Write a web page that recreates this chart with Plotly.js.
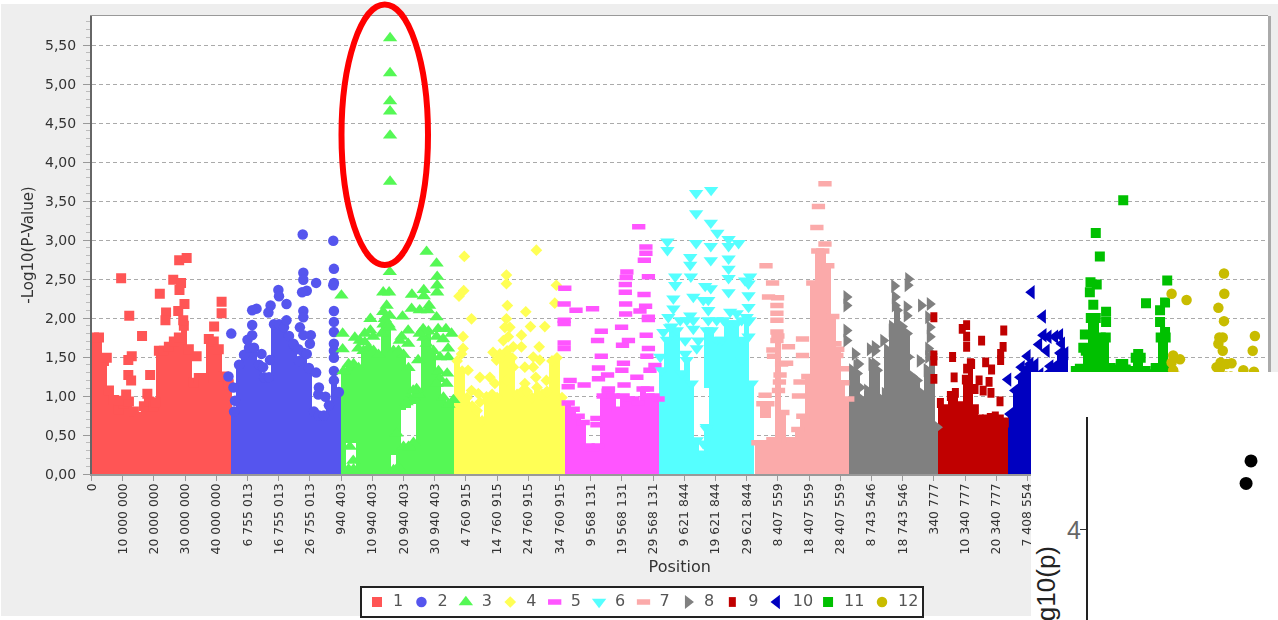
<!DOCTYPE html>
<html><head><meta charset="utf-8">
<script src="https://cdn.plot.ly/plotly-3.0.1.min.js"></script>
<style>
html,body{margin:0;padding:0;width:1278px;height:620px;overflow:hidden;background:#fff}
#panel{position:absolute;left:1px;top:4px;width:1277px;height:612px;background:#eeeeee}
#chart{position:absolute;left:0;top:0;width:1278px;height:620px;filter:blur(0.45px)}
#inset{position:absolute;left:1031px;top:372px;width:247px;height:407px;background:#fff}
</style></head><body>
<div id="panel"></div><div id="chart"></div><div id="inset"></div>
<script>
// Axis ticks: cumulative position in Mb, and the within-chromosome label
const tickMb=[0,10,20,30,40,50,60,70,80,90,100,110,120,130,140,150,160,170,180,190,200,210,220,230,240,250,260,270,280,290,300];
const tickLabels=["0","10 000 000","20 000 000","30 000 000","40 000 000","6 755 013","16 755 013","26 755 013","940 403","10 940 403","20 940 403","30 940 403","4 760 915","14 760 915","24 760 915","34 760 915","9 568 131","19 568 131","29 568 131","9 621 844","19 621 844","29 621 844","8 407 559","18 407 559","28 407 559","8 743 546","18 743 546","340 777","10 340 777","20 340 777","7 408 554"];
const chrNames=["1","2","3","4","5","6","7","8","9","10","11","12"];
const legendSlots=[1,2,3,4,5,6,7,8,9,10,11.155,12.37];
const legendTextSlots=[1.36,2.36,3.36,4.36,5.36,6.36,7.36,8.36,9.36,10.36,11.515,12.73];
const chrColors=["#ff5555","#5555ee","#55f855","#ffff55","#ff55ff","#55ffff","#fbaaaa","#808080","#c00000","#0000c0","#00c000","#c8bc00"];
const chrSymbols=["square","circle","triangle-up","diamond","line-ew","triangle-down","line-ew","triangle-right","line-ns","triangle-left","square","circle"];
const chrSizes=[10,10.5,12.5,9,9.5,12.5,9.5,12,7,12.5,10,10.5];
const chrLineWidths=[0,0,0,0,5.5,0,5.5,0,7,0,0,0];

// Dense lower part of each chromosome: column position (Mb) and top of the solid mass
const mass1X=[0.8,2.4,4,5.6,7.2,8.8,10.4,12,13.6,15.2,16.8,18.4,20,21.6,23.2,24.8,26.4,28,29.6,31.2,32.8,34.4,36,37.6,39.2,40.8,42.4,44];
const mass1Top=[1.75,1.75,1.45,1.07,.95,.83,.9,.93,.8,.73,.87,.93,.87,1.58,1.58,1.63,1.7,1.75,1.9,1.6,1.17,1.23,1.23,1.73,1.7,1.6,1.25,1.15];
const mass2X=[45.7,47.3,48.9,50.5,52.1,53.7,55.3,56.9,58.5,60.1,61.7,63.3,64.9,66.5,68.1,69.7,71.3,72.9,74.5,76.1,77.7,79.3];
const mass2Top=[.8,1.4,1.53,1.62,1.62,1.4,1.24,1.24,1.92,1.92,1.88,1.77,1.65,1.45,1.55,1.36,.8,.75,.75,.88,1.2,1.05];
const mass3X=[80.8,82.4,84,85.6,87.2,88.8,90.4,92,93.6,95.2,96.8,98.4,100,101.6,103.2,104.8,106.4,108,109.6,111.2,112.8,114.4,116];
const mass3Top=[1.32,.06,.06,1.36,1.58,1.62,1.58,1.53,1.92,1.92,.05,1.58,.35,.35,.4,1.02,1.75,1.83,1.58,1.32,.98,.89,.95];
const mass4X=[117.2,118.8,120.4,122,123.6,125.2,126.8,128.4,130,131.6,133.2,134.8,136.4,138,139.6,141.2,142.8,144.4,146,147.6,149.2,150.8];
const mass4Top=[1.45,1.32,.98,.87,.81,.68,.94,1.02,.98,1.49,1.58,1.49,1.02,1.06,1.06,.98,1.11,1.02,1.06,1.45,1.49,.98];
const mass5X=[152.8,154.4,156,157.6,159.2,160.8,162.4,164,165.6,167.2,168.8,170.4,172,173.6,175.2,176.8,178.4,180,181.6];
const mass5Top=[.91,.83,.74,.66,.36,.32,.36,1,1.06,1,.83,1,.96,.96,.91,1.09,1,1,.96];
const mass6X=[182.8,184.4,186,187.6,189.2,190.8,192.4,194,195.6,197.2,198.8,200.4,202,203.6,205.2,206.8,208.4,210,211.6];
const mass6Top=[1.33,1.72,1.89,1.84,1.29,1.46,1.16,.43,.26,.6,1.84,1.72,1.72,1.93,1.93,1.93,1.72,2.01,1.16];
const mass7X=[213.6,215.2,216.8,218.4,220,221.6,223.2,224.8,226.4,228,229.6,231.2,232.8,234.4,236,237.6,239.2,240.8,242.4];
const mass7Top=[.4,.4,.4,.44,1.77,.79,.44,.44,.57,.74,1.25,2.45,2.86,2.86,2.67,2.02,1.6,1.17,.96];
const mass8X=[243.8,245.4,247,248.6,250.2,251.8,253.4,255,256.6,258.2,259.8,261.4,263,264.6,266.2,267.8,269.4,271];
const mass8Top=[1.33,1.29,.95,1.07,1.33,1.33,.95,1.59,1.89,2.1,1.89,1.8,1.25,1.2,1.03,1.33,1.54,.6];
const mass9X=[272.1,273.7,275.3,276.9,278.5,280.1,281.7,283.3,284.9,286.5,288.1,289.7,291.3,292.9];
const mass9Top=[.91,.83,1,1.04,.87,1.21,1.42,.83,.7,.7,.72,.74,.7,.66];
const mass10X=[294.5,296.1,297.7,299.3,300.9,302.5,304.1,305.7,307.3,308.9,310.5,312.1];
const mass10Top=[.77,1.07,1.24,1.33,1.41,1.4,1.28,1.26,1.38,1.38,1.55,1.55];
const mass11X=[315.5,317.1,318.7,320.3,321.9,323.5,325.1,326.7,328.3,329.9,331.5,333.1,334.7,336.3,337.9,339.5,341.1,342.7,344.3,345.9];
const mass11Top=[1.32,1.34,1.58,2,2,1.75,1.75,1.36,1.34,1.41,1.34,1.32,1.49,1.49,1.32,1.28,1.36,1.75,1.75,1.32];
const mass12X=[346.5,348.1,360.4,362,363.6,365.2,369,372.5];
const mass12Top=[1.25,1.25,1.25,1.25,1.25,1.25,1.25,1.25];

// Columns that have a white gap: the part above the gap
const band3X=[82.4,84,96.8,100,101.6,103.2];
const band3Low=[.4,.4,.24,.82,.85,.9];
const band3Top=[1.41,1.41,1.58,1.53,1.36,.98];
const band6X=[197.2];
const band6Low=[1.1];
const band6Top=[1.84];
const band7X=[215.2,216.8];
const band7Low=[.72,.72];
const band7Top=[.9,.9];

// Separately visible points: position (Mb) and -log10(p)
const pts1X=[9.5,12.1,16.2,21.9,23.9,23.7,26.2,28.7,28.2,28.1,30.5,29.8,27.8,29.4,41.7,41.7,39.3,4.9,12.9,11.8,11.8,12.7,18.8,33.7,11.1,17.9,8.6,20.4];
const pts1Y=[2.51,2.03,1.77,2.31,2.07,1.97,2.49,2.45,2.36,2.74,2.77,2.18,2.09,1.97,2.21,2.06,1.89,1.49,1.51,1.46,1.27,1.2,1.27,1.51,1.02,1.03,.94,.92];
const pts2X=[67.7,77.5,77.7,67.9,67.9,72,77.7,77.5,69,67.5,59.9,60.1,52.9,51.5,57.4,62.5,56.7,67.9,67.9,77.7,77.7,77.7,77.7,77.7,77.7,77.7,51.5,44.8,66.8,70.3,67.9,72,72.9,72.7,75,45.5,46,43.9,50,51.5,62.5,57.2,55,64.7,66.3,69,70,54.5];
const pts2Y=[3.07,2.99,2.63,2.58,2.49,2.45,2.45,2.42,2.35,2.33,2.36,2.28,2.12,2.1,2.16,2.18,2.07,2.09,2.01,2.09,1.95,1.82,1.67,1.58,1.49,1.32,1.91,1.8,1.88,1.78,1.78,1.3,1.11,1.02,.99,1.11,.94,1.25,1.72,1.78,1.97,1.46,1.37,1.67,1.6,1.54,1.67,1.54];
const pts3X=[95.7,95.7,95.7,95.7,95.7,95.7,107.4,110.6,95.6,110.8,110.8,110.8,93.5,95.4,102.7,106.5,106.5,80.1,94.6,93.5,95.6,102.6,105.2,108.2,107.9,89.4,99.7,110.6,87.6,89.4,84.4,101.5,99.4,106.3,113.6,115.4,111.1,86,114.3,114,111.7,104.7,104.2,101,80.5,80.5,85.5,87.6,90.3,93,95.6,94,98.8,101.5,105.2,107.4,110.6,112.7,114.3,111.7,113.8,110.6,103.1,97.8,102,98.3,83.9,82.8];
const pts3Y=[5.59,5.14,4.78,4.65,4.34,3.75,2.85,2.7,2.59,2.53,2.42,2.33,2.33,2.33,2.3,2.36,2.28,2.29,2.16,2.08,2.03,2.12,2.1,2.16,2.1,1.99,2.02,2.01,1.8,1.84,1.75,1.84,1.76,1.86,1.86,1.8,1.86,1.71,1.61,1.29,1.22,1.46,1.09,.92,1.8,1.6,1.61,1.69,1.76,1.8,1.88,1.99,1.71,1.67,1.8,1.67,1.76,1.73,1.5,1.5,1.16,1.16,1.07,.52,.34,.09,.17,.35];
const pts4X=[119.5,142.6,133,133,119.3,117.8,149,148.5,133.3,139.2,121.8,133,134.1,140.7,145.3,137.8,132,119.1,119.1,143.5,128.7,124.5,129.3,141.6,135.2,124.5,133,138.9,142.4,118.6,120.7,126.6,130.9,135.2,133.6,132.5,137.8,141.6,143.7,145.8,138.9,134.1,129.8,127.7,121.8,124];
const pts4Y=[2.79,2.87,2.55,2.44,2.35,2.28,2.42,2.19,2.16,2.08,1.99,1.99,1.88,1.89,1.89,1.78,1.71,1.76,1.61,1.63,1.56,1.24,1.16,1.37,1.37,.92,1.2,1.16,1.24,1.54,1.33,.99,1.54,1.63,1.76,1.88,1.63,1.5,1.46,1.2,1.37,1.5,1.46,1.24,1.07,1.03];
const pts5X=[175.4,177.7,177.7,177.2,171.6,171.4,171.1,171.1,171.2,171.2,178.5,177.1,177.6,175.8,178.5,178.5,151.7,151.5,151.5,151.5,151.5,151.5,155.3,160.6,169.9,163.4,162.2,177.8,172.1,170.2,178.5,163.4,178,170.5,170,162.5,165.4,162.5,179,180.6,174.8,170.7,153.4,157.9,152.8,165.7,178.2,162,162];
const pts5Y=[3.17,2.91,2.83,2.74,2.59,2.52,2.43,2.33,2.18,2.05,2.53,2.3,2.15,2.09,2.01,1.98,2.38,2.18,1.97,1.93,1.68,1.61,2.1,2.12,1.88,1.83,1.71,1.78,1.71,1.65,1.61,1.51,1.51,1.42,1.33,1.36,1.27,1.22,1.33,1.39,1.24,1.14,1.2,1.14,1.12,1.09,1.09,.71,.63];
const pts6X=[198.6,193.8,193.8,198.5,200.6,204.2,204.2,207.4,193.8,198.5,184.6,184.6,191.9,191.9,198.5,204.2,204.2,204.2,204.2,187.1,187.1,192.1,211.1,209.5,210.6,196.7,198.5,186.5,186.5,192.9,197.7,197.7,210.6,210.6,184.9,191.9,204.7,210.9,183.3,192.9,190.3,194,182.3,197.2,196.1,210.6,188.7,190.8,192.9,185.4,200.4,202.6,206.8,208.4,196.1,197.7,190.3,194.5,208.4];
const pts6Y=[3.64,3.6,3.34,3.22,3.09,3.01,2.92,2.96,2.96,2.92,2.98,2.87,2.78,2.68,2.74,2.76,2.63,2.51,2.33,2.53,2.42,2.53,2.53,2.48,2.44,2.41,2.38,2.25,2.12,2.27,2.23,2.1,2.29,2.14,2.01,2.03,2.08,1.97,1.82,1.86,1.71,1.61,1.5,.58,.39,1.76,1.97,1.97,1.97,1.88,1.97,1.97,2.06,1.97,2.23,1.97,1.54,1.71,1.46];
const pts7X=[235.1,233,232.5,235.1,216.2,218.3,217,219.9,219.7,219.7,219.7,219.7,219.7,223.4,227.9,218.4,227.9,218.6,221.2,222.8,220.7,227.1,220.5,215.9,226.6,220.2,238.3,238.9,241.5,237.8];
const pts7Y=[3.72,3.43,3.16,2.95,2.67,2.45,2.27,2.26,2.16,2.06,1.97,1.82,1.71,1.63,1.73,1.59,1.52,1.51,1.41,1.42,1.27,1.18,1.18,1.01,1,1.07,1.67,1.52,1.35,1.2];
const pts8X=[261.8,261.6,257.3,257.5,257.5,261.3,261.3,268.7,265.9,268.2,268.7,268.7,268.2,242,242,242,242,253.8,251.1,249.5,244.7,265.5,245.2,250,261.8,246.3,254.3,251.1,251.1,245.8,268.2,267.7,256.5,260.2];
const pts8Y=[2.5,2.42,2.41,2.27,2.16,2.14,2.03,2.18,2.16,2.01,1.88,1.76,1.61,2.27,2.16,1.84,1.71,1.71,1.63,1.6,1.54,1.45,1.39,1.41,1.5,1.11,1.03,1.58,1.41,1.41,1.5,1.33,1.84,1.76];
const pts9X=[270,280.5,279.1,292.4,285.3,280.5,280.5,292.2,291.4,291.4,270,270,276,286.6,288.5,280.5,276.5,270,284.5,287.7,285.8,288.3,291.2,283.2,282.1];
const pts9Y=[2.01,1.91,1.86,1.84,1.71,1.76,1.63,1.63,1.54,1.46,1.52,1.45,1.5,1.43,1.34,1.35,1.24,1.22,1.2,1.18,1.07,1.04,.93,1.09,1.41];
const pts10X=[301.3,304.9,293.8,300,305.1,303.7,306.1,308.8,310.4,311,311,298.1,306.7];
const pts10Y=[2.33,2.02,1.21,1.51,1.78,1.66,1.58,1.76,1.78,1.67,1.54,1.37,1.76];
const pts11X=[330.7,321.9,323.2,320.2,322.2,320,321.1,344.8,344.1,342.5,338,342.5,344.1,325.2,325.2,318.4,317.9,335.5,330.7,316.8];
const pts11Y=[3.51,3.09,2.79,2.46,2.43,2.33,2.17,2.48,2.2,2.1,2.19,1.95,1.82,2.08,1.95,1.79,1.62,1.54,1.41,1.35];
const pts12X=[363,363.1,361.2,363,346.2,351,372.9,372.2,361.5,362.6,361.2,362.6,361.9,365.4,363.8,361.7,346.7,348.9,346.2,369.2,372.6,346.7,360.6];
const pts12Y=[2.57,2.31,2.13,1.96,2.31,2.23,1.77,1.58,1.75,1.75,1.67,1.58,1.43,1.42,1.41,1.35,1.52,1.47,1.43,1.33,1.31,1.33,1.37];

// The cut-off second plot pasted over the bottom right corner
const insetX=[85.8,83.2];
const insetY=[4.46,4.31];

const massX=[mass1X,mass2X,mass3X,mass4X,mass5X,mass6X,mass7X,mass8X,mass9X,mass10X,mass11X,mass12X];
const massTop=[mass1Top,mass2Top,mass3Top,mass4Top,mass5Top,mass6Top,mass7Top,mass8Top,mass9Top,mass10Top,mass11Top,mass12Top];
const ptsX=[pts1X,pts2X,pts3X,pts4X,pts5X,pts6X,pts7X,pts8X,pts9X,pts10X,pts11X,pts12X];
const ptsY=[pts1Y,pts2Y,pts3Y,pts4Y,pts5Y,pts6Y,pts7Y,pts8Y,pts9Y,pts10Y,pts11Y,pts12Y];
const bands={2:[band3X,band3Low,band3Top],5:[band6X,band6Low,band6Top],6:[band7X,band7Low,band7Top]};

function markerFor(i){
  return {symbol:chrSymbols[i],size:chrSizes[i],color:chrColors[i],opacity:1,
    line:chrLineWidths[i]?{color:chrColors[i],width:chrLineWidths[i]}:{width:0}};
}
const traces=[];
chrNames.forEach((n,i)=>{
  traces.push({type:"bar",x:massX[i],y:massTop[i],width:1.75,marker:{color:chrColors[i],line:{width:0}},showlegend:false,hoverinfo:"skip"});
  if(bands[i]){
    const [bx,bl,bt]=bands[i];
    traces.push({type:"bar",x:bx,y:bt.map((t,k)=>t-bl[k]),base:bl,width:1.75,marker:{color:chrColors[i],line:{width:0}},showlegend:false,hoverinfo:"skip"});
    traces.push({type:"scatter",mode:"markers",x:bx,y:bt,marker:markerFor(i),showlegend:false,hoverinfo:"skip"});
  }
  traces.push({type:"scatter",mode:"markers",x:massX[i],y:massTop[i],marker:markerFor(i),showlegend:false,hoverinfo:"skip"});
  traces.push({type:"scatter",mode:"markers",name:n,x:ptsX[i],y:ptsY[i],marker:markerFor(i),showlegend:false});
});
// Legend strip
traces.push({type:"scatter",mode:"markers",xaxis:"x2",yaxis:"y2",x:legendSlots,y:chrNames.map(()=>0),
  marker:{symbol:chrSymbols,size:chrSizes,color:chrColors,opacity:1,line:{color:chrColors,width:chrLineWidths}},showlegend:false,hoverinfo:"skip"});
traces.push({type:"scatter",mode:"text",xaxis:"x2",yaxis:"y2",x:legendTextSlots,y:chrNames.map(()=>0),text:chrNames,
  textposition:"middle right",textfont:{family:"DejaVu Sans",size:16,color:"#555"},cliponaxis:false,showlegend:false,hoverinfo:"skip"});

const W=1278,H=620,F="DejaVu Sans";
const px=v=>v/W, py=v=>1-v/H;
const layout={
  width:W,height:H,margin:{l:0,r:0,t:0,b:0},paper_bgcolor:"rgba(0,0,0,0)",plot_bgcolor:"#fff",
  barmode:"overlay",bargap:0,showlegend:false,separators:", ",font:{family:F,color:"#444"},
  xaxis:{domain:[px(91.5),px(1268)],range:[0,377.1],tickmode:"array",tickvals:tickMb,ticktext:tickLabels,tickangle:-90,
    ticks:"outside",ticklen:5,tickcolor:"#999",ticklabelstandoff:-2,tickfont:{family:F,size:12.4,color:"#333"},showgrid:false,zeroline:false,
    showline:true,linecolor:"#999",linewidth:1.5,mirror:true,
    title:{text:"Position",font:{family:F,size:16,color:"#333"},standoff:7}},
  yaxis:{domain:[py(474),py(16)],range:[0,5.872],dtick:.5,tick0:0,tickformat:".2f",ticks:"outside",ticklen:7,tickcolor:"#999",ticklabelstandoff:4,
    tickfont:{family:F,size:14,color:"#333"},showgrid:true,gridcolor:"#aaa",griddash:"4px,3px",gridwidth:1,zeroline:false,
    showline:true,linecolor:"#666",linewidth:1.5,
    minor:{ticks:"outside",dtick:.1,ticklen:4,tickcolor:"#bbb",showgrid:false},
    title:{text:"-Log10(P-Value)",font:{family:F,size:15,color:"#333"},standoff:8}},
  xaxis2:{domain:[px(362),px(922)],range:[.662,13.27],anchor:"y2",showgrid:false,zeroline:false,showticklabels:false,ticks:"",
    showline:true,linecolor:"#222",linewidth:2,mirror:true},
  yaxis2:{domain:[py(616),py(588)],range:[-1,1],anchor:"x2",showgrid:false,zeroline:false,showticklabels:false,ticks:"",
    showline:true,linecolor:"#222",linewidth:2,mirror:true},
  shapes:[
    {type:"line",xref:"paper",yref:"paper",x0:px(1269.5),x1:px(1269.5),y0:py(16),y1:py(474),line:{color:"#aaa",width:3}},
    {type:"circle",xref:"paper",yref:"paper",x0:px(341.5),x1:px(428),y0:py(265),y1:py(4.5),line:{color:"#ff0000",width:6},layer:"above"}
  ]
};
Plotly.newPlot("chart",traces,layout,{displayModeBar:false,staticPlot:true});

Plotly.newPlot("inset",[{type:"scatter",mode:"markers",x:insetX,y:insetY,marker:{color:"#000",size:13},hoverinfo:"skip"}],{
  width:247,height:407,margin:{l:57,r:0,t:45,b:0},paper_bgcolor:"#fff",plot_bgcolor:"#fff",showlegend:false,
  xaxis:{range:[0,100],visible:false},
  yaxis:{range:[2.34,4.753],tickvals:[4],ticktext:["4"],ticks:"outside",ticklen:6,tickcolor:"#333",ticklabelstandoff:-6,tickfont:{family:"Liberation Sans",size:25,color:"#666"},
    showgrid:false,zeroline:false,showline:true,linecolor:"#222",linewidth:2,
    title:{text:"-log10(p)",font:{family:"Liberation Sans",size:26,color:"#222"},standoff:4}}
},{displayModeBar:false,staticPlot:true});
</script></body></html>
